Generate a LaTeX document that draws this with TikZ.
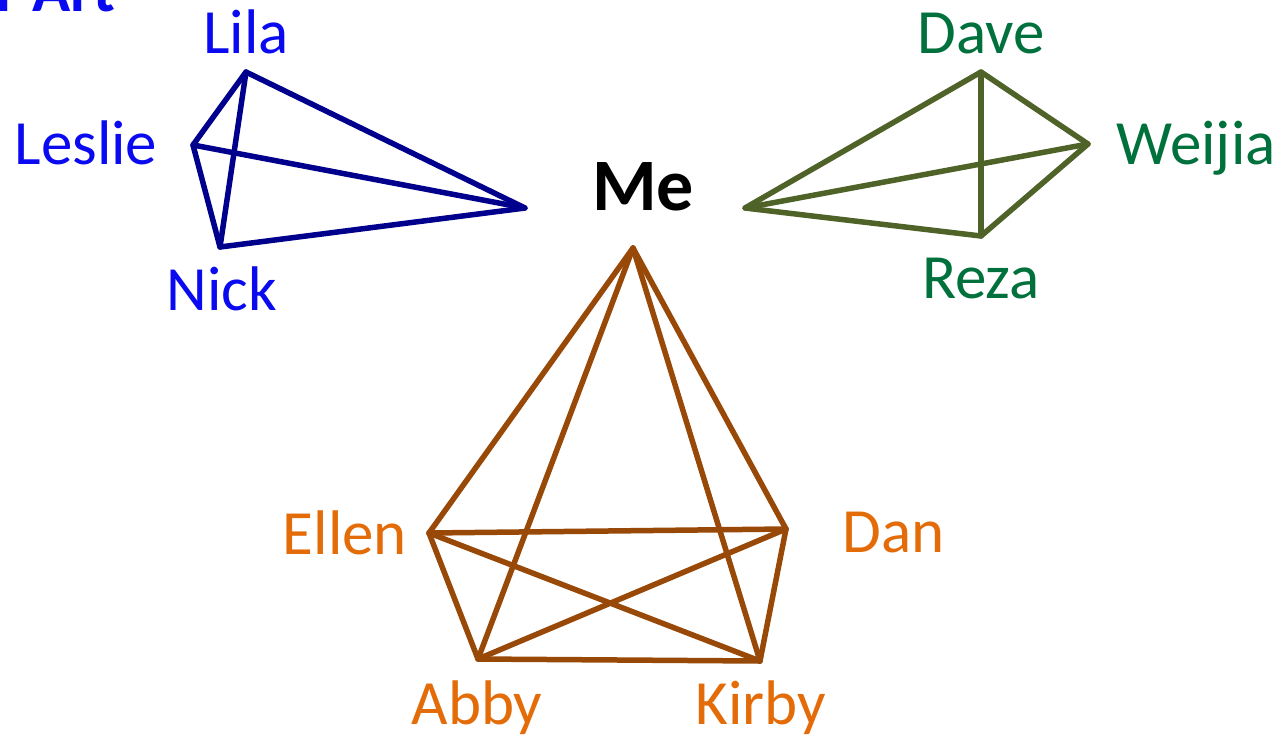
\documentclass[tikz,border=0pt]{standalone}
\usepackage{fontspec}
\setmainfont{Carlito}
\definecolor{tblue}{RGB}{10,10,240}
\definecolor{lblue}{RGB}{0,0,140}
\definecolor{tgreen}{RGB}{0,112,60}
\definecolor{lgreen}{RGB}{79,98,40}
\definecolor{torange}{RGB}{227,108,9}
\definecolor{lbrown}{RGB}{152,72,7}
\begin{document}
\begin{tikzpicture}[x=1pt,y=-1pt,
  lbl/.style={font=\fontsize{63}{72}\selectfont, anchor=base, inner sep=0pt},
  edge/.style={line width=5.5pt, line cap=round, line join=round}]
\useasboundingbox (0,0) rectangle (1281,734);
\clip (0,0) rectangle (1281,734);
% title fragment
\node[anchor=base west, inner sep=0pt, text=tblue, font=\fontsize{63}{72}\selectfont\bfseries] (title) at (-4,11) {r Art};
% Me
\node[anchor=base, inner sep=0pt, font=\fontsize{74}{84}\selectfont\bfseries] (me) at (643,210) {Me};
% blue group
\coordinate (vLila) at (246,72);
\coordinate (vLeslie) at (193,145);
\coordinate (vNick) at (220,247);
\coordinate (vMeL) at (525,208);
\node[lbl, text=tblue] (Lila) at (246,53) {Lila};
\node[lbl, text=tblue] (Leslie) at (86,164) {Leslie};
\node[lbl, text=tblue] (Nick) at (222,310) {Nick};
\draw[edge, lblue] (vLila) -- (vLeslie) -- (vNick) -- (vMeL) -- cycle;
\draw[edge, lblue] (vLila) -- (vNick);
\draw[edge, lblue] (vLeslie) -- (vMeL);
% green group
\coordinate (vDave) at (981,72);
\coordinate (vWeijia) at (1088,144);
\coordinate (vReza) at (981,236);
\coordinate (vMeR) at (745,208);
\node[lbl, text=tgreen] (Dave) at (981,53) {Dave};
\node[lbl, text=tgreen] (Weijia) at (1196,164) {Weijia};
\node[lbl, text=tgreen] (Reza) at (981,298) {Reza};
\draw[edge, lgreen] (vMeR) -- (vDave) -- (vWeijia) -- (vReza) -- cycle;
\draw[edge, lgreen] (vDave) -- (vReza);
\draw[edge, lgreen] (vMeR) -- (vWeijia);
% brown group
\coordinate (vMeB) at (633,248);
\coordinate (vEllen) at (429,533);
\coordinate (vDan) at (786,529);
\coordinate (vAbby) at (478,659);
\coordinate (vKirby) at (760,661);
\node[lbl, text=torange] (Ellen) at (345,554) {Ellen};
\node[lbl, text=torange] (Dan) at (894,552) {Dan};
\node[lbl, text=torange] (Abby) at (477,724) {Abby};
\node[lbl, text=torange] (Kirby) at (761,724) {Kirby};
\draw[edge, lbrown] (vMeB) -- (vEllen) -- (vAbby) -- (vKirby) -- (vDan) -- cycle;
\draw[edge, lbrown] (vMeB) -- (vAbby);
\draw[edge, lbrown] (vMeB) -- (vKirby);
\draw[edge, lbrown] (vEllen) -- (vDan);
\draw[edge, lbrown] (vEllen) -- (vKirby);
\draw[edge, lbrown] (vDan) -- (vAbby);
\end{tikzpicture}
\end{document}
